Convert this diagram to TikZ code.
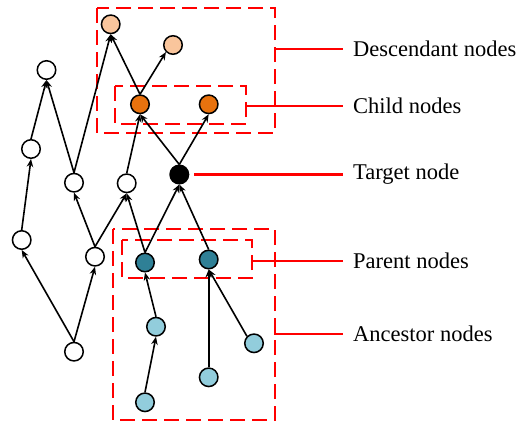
\documentclass[tikz,border=0pt]{standalone}
\usepackage{fontspec}
\setmainfont{Liberation Serif}
\usetikzlibrary{arrows.meta}
\definecolor{peach}{HTML}{F9C59C}
\definecolor{orng}{HTML}{E8720E}
\definecolor{dteal}{HTML}{2F8096}
\definecolor{lblue}{HTML}{92CDDC}
\definecolor{rd}{HTML}{FF0000}
\begin{document}
\begin{tikzpicture}[x=1pt,y=-1pt,
  nd/.style={circle,draw=black,line width=1.5pt,minimum size=18.5pt,inner sep=0pt},
  wh/.style={nd,fill=white},
  pe/.style={nd,fill=peach},
  og/.style={nd,fill=orng},
  bk/.style={nd,fill=black},
  dt/.style={nd,fill=dteal},
  lb/.style={nd,fill=lblue},
  edge/.style={line width=1.6pt,-{Stealth[length=8pt,width=6.5pt]}},
  grp/.style={draw=rd,line width=2.3pt,dash pattern=on 15pt off 7pt,rectangle,inner sep=0pt},
  lead/.style={draw=rd,line width=2.3pt},
  lbl/.style={anchor=west,inner sep=0pt,font=\fontsize{22.5}{26}\selectfont}]
\useasboundingbox (0,0) rectangle (523,423);
% boxes
\draw[grp] (97,8) rectangle (275,133);
\draw[grp] (115,86) rectangle (246,124);
\draw[grp] (122,240) rectangle (252,278);
\draw[grp] (113,229) rectangle (275,420);
% nodes
\node[pe] (d1) at (110.7,24.3) {};
\node[pe] (d2) at (173,45) {};
\node[og] (c1) at (140,104.3) {};
\node[og] (c2) at (208.7,104.3) {};
\node[bk] (t) at (179.3,174.5) {};
\node[wh] (w1) at (46.5,70) {};
\node[wh] (w2) at (31,149) {};
\node[wh] (w3) at (74,182.7) {};
\node[wh] (w4) at (126.7,183.3) {};
\node[wh] (w5) at (21.7,240) {};
\node[wh] (w6) at (95,256.7) {};
\node[wh] (w7) at (74,351.7) {};
\node[dt] (p1) at (145,262.5) {};
\node[dt] (p2) at (208.7,259.5) {};
\node[lb] (a1) at (156,326.7) {};
\node[lb] (a2) at (254,343.3) {};
\node[lb] (a3) at (208.7,377.3) {};
\node[lb] (a4) at (145,402.3) {};
% edges
\draw[edge] (w7.north) -- (w5.south);
\draw[edge] (w7.north) -- (w6.south);
\draw[edge] (w5.north) -- (w2.south);
\draw[edge] (w2.north) -- (w1.south);
\draw[edge] (w3.north) -- (w1.south);
\draw[edge] (w3.north) -- (d1.south);
\draw[edge] (w6.north) -- (w3.south);
\draw[edge] (w6.north) -- (w4.south);
\draw[edge] (p1.north) -- (w4.south);
\draw[edge] (w4.north) -- (c1.south);
\draw[edge] (p1.north) -- (t.south);
\draw[edge] (p2.north) -- (t.south);
\draw[edge] (t.north) -- (c1.south);
\draw[edge] (t.north) -- (c2.south);
\draw[edge] (c1.north) -- (d1.south);
\draw[edge] (c1.north) -- (d2.south west);
\draw[edge] (a1.north) -- (p1.south);
\draw[edge] (a4.north) -- (a1.south);
\draw[edge] (a3.north) -- (p2.south);
\draw[edge] (a2.north west) -- (p2.south);
% labels
\node[lbl] (ld) at (353,49) {Descendant nodes};
\node[lbl] (lc) at (353,106) {Child nodes};
\node[lbl] (lt) at (353,174.5) {Target node};
\node[lbl] (lp) at (353,261) {Parent nodes};
\node[lbl] (la) at (353,334) {Ancestor nodes};
\coordinate (ed) at (274,49);
\coordinate (ec) at (246,106);
\coordinate (et) at (194,174.5);
\coordinate (ep) at (252,261);
\coordinate (ea) at (274,334);
\draw[lead] (ed) -- ([xshift=-10pt]ld.west);
\draw[lead] (ec) -- ([xshift=-10pt]lc.west);
\draw[lead] (et) -- ([xshift=-10pt]lt.west);
\draw[lead] (ep) -- ([xshift=-10pt]lp.west);
\draw[lead] (ea) -- ([xshift=-10pt]la.west);
\end{tikzpicture}
\end{document}
